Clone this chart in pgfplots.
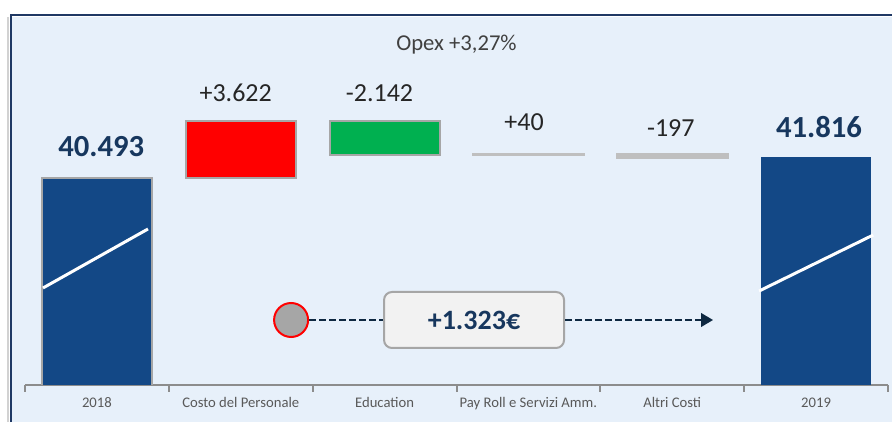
\documentclass[border=0pt]{standalone}
\usepackage{pgfplots}
\pgfplotsset{compat=1.18}
\usepackage{pgfplotstable}
\usepackage{fontspec}
\setmainfont{Carlito}
\usetikzlibrary{arrows.meta}
\definecolor{navybar}{RGB}{19,72,134}
\definecolor{navytext}{RGB}{23,55,94}
\definecolor{framenavy}{RGB}{31,56,100}
\definecolor{bgblue}{RGB}{231,240,250}
\definecolor{redbar}{RGB}{255,0,0}
\definecolor{greenbar}{RGB}{0,176,80}
\definecolor{greyline}{RGB}{191,191,191}
\definecolor{outline}{RGB}{166,166,166}
\definecolor{axisgrey}{RGB}{140,140,140}
\definecolor{labeltext}{RGB}{38,38,38}
\definecolor{titletext}{RGB}{64,64,64}
\definecolor{ticktext}{RGB}{89,89,89}
\definecolor{dashnavy}{RGB}{14,40,65}
\definecolor{boxfill}{RGB}{242,242,242}
\definecolor{dotgrey}{RGB}{166,166,166}

\pgfplotstableread{
x base greyv y2018 personale education y2019
0 0     0   40493 0    0    0
1 40493 0   0     3622 0    0
2 41973 0   0     0    2142 0
3 41973 40  0     0    0    0
4 41816 197 0     0    0    0
5 0     0   0     0    0    41816
}\datatable

\begin{document}
\begin{tikzpicture}
\fill[bgblue] (9pt,0) rectangle (669pt,303.75pt);
\draw[gray!35, line width=1.5pt] (6pt,0) -- (6pt,304pt);
\draw[framenavy, line width=1.5pt] (7.875pt,0) -- (7.875pt,304.875pt) -- (669pt,304.875pt);
\begin{axis}[
  at={(18.75pt,27.75pt)}, anchor=south west,
  scale only axis, width=647.25pt, height=276pt,
  ybar stacked, bar width=82.5pt,
  xmin=-0.5, xmax=5.5, ymin=27245, ymax=50797,
  axis y line=none, axis x line*=bottom,
  axis line style={draw=axisgrey, line width=1.5pt},
  xtick={0,...,5},
  xticklabels={2018, Costo del Personale, Education, Pay Roll e Servizi Amm., Altri Costi, 2019},
  minor xtick={-0.5,0.5,...,5.5},
  major tick length=0pt, minor tick length=5pt, tick align=outside,
  minor tick style={draw=axisgrey, line width=1.5pt},
  xticklabel style={font=\fontsize{11}{13}\selectfont, text=ticktext, yshift=-6pt},
]
\addplot[draw=none, fill=none] table[x=x,y=base]{\datatable};
\addplot[fill=greyline, draw=greyline, line width=2.25pt] table[x=x,y=greyv]{\datatable};
\addplot[fill=navybar, draw=outline, line width=1.2pt] table[x=x,y=y2018]{\datatable};
\addplot[fill=redbar, draw=outline, line width=1.5pt] table[x=x,y=personale]{\datatable};
\addplot[fill=greenbar, draw=outline, line width=1.5pt] table[x=x,y=education]{\datatable};
\addplot[fill=navybar, draw=none] table[x=x,y=y2019]{\datatable};

\coordinate (b1s) at (axis cs:-0.375,33453);
\coordinate (b1e) at (axis cs:0.355,37229);
\coordinate (b2s) at (axis cs:4.604,33261);
\coordinate (b2e) at (axis cs:5.397,36845);

\node[font=\fontsize{17}{20}\selectfont, text=titletext] at (axis cs:2.5,49005) {Opex +3,27\%};
\node[font=\fontsize{19.5}{22}\selectfont, text=labeltext] at (axis cs:0.965,45933) {+3.622};
\node[font=\fontsize{19.5}{22}\selectfont, text=labeltext] at (axis cs:1.965,45933) {-2.142};
\node[font=\fontsize{19.5}{22}\selectfont, text=labeltext] at (axis cs:2.97,44077) {+40};
\node[font=\fontsize{19.5}{22}\selectfont, text=labeltext] at (axis cs:3.99,43661) {-197};
\node[font=\bfseries\fontsize{23}{26}\selectfont, text=navytext] at (axis cs:0.03,42477) {40.493};
\node[font=\bfseries\fontsize{23}{26}\selectfont, text=navytext] at (axis cs:5.02,43757) {41.816};

\draw[dashnavy, line width=2pt, dash pattern=on 5pt off 2.5pt] (axis cs:1.475,31405) -- (axis cs:1.99,31405);
\draw[dashnavy, line width=2pt, dash pattern=on 5pt off 2.5pt, -{Triangle[length=9pt,width=10pt]}] (axis cs:3.255,31405) -- (axis cs:4.284,31405);
\node[circle, fill=dotgrey, draw=redbar, line width=1.5pt, minimum size=25.5pt, inner sep=0pt] at (axis cs:1.35,31405) {};
\node[draw=outline, line width=1.5pt, fill=boxfill, rounded corners=6pt, minimum width=135pt, minimum height=42pt, font=\bfseries\fontsize{21}{24}\selectfont, text=navytext] at (axis cs:2.622,31405) {+1.323€};
\end{axis}
\draw[white, line width=2.25pt] (b1s) -- (b1e);
\draw[white, line width=2.25pt] (b2s) -- (b2e);
\pgfresetboundingbox
\useasboundingbox (0,0) rectangle (669pt,316.5pt);
\end{tikzpicture}
\end{document}
